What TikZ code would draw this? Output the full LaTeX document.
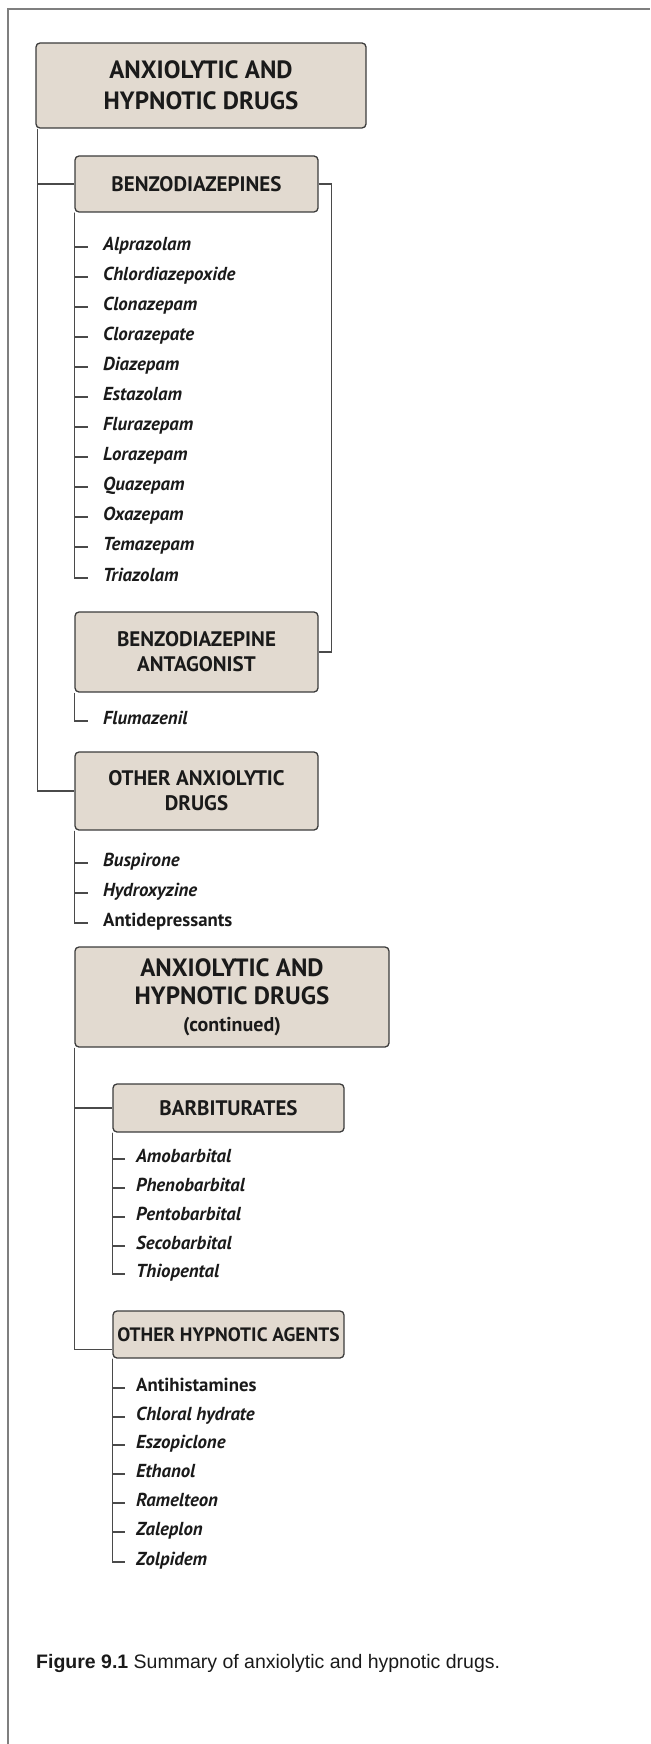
\documentclass[tikz,border=0pt]{standalone}
\usepackage{fontspec}
\setmainfont{PT Sans}
\newfontfamily\capfont{Liberation Sans}
\usetikzlibrary{positioning}

\definecolor{boxfill}{HTML}{E2DAD0}
\definecolor{boxline}{HTML}{3C3C3C}
\definecolor{treeline}{HTML}{4A4A4A}
\definecolor{framegray}{HTML}{7F7F7F}
\definecolor{inkblack}{HTML}{1A1A1A}

\begin{document}
\begin{tikzpicture}[x=1pt, y=-1pt,
    box/.style={draw=boxline, fill=boxfill, line width=1.3pt, rounded corners=4pt, align=center, inner sep=2pt, text=inkblack},
    subbox/.style={box, minimum width=243pt, font=\fontsize{21}{25}\selectfont\bfseries},
    item/.style={anchor=west, inner xsep=15pt, inner ysep=0pt, text height=0.7em, text depth=0pt, text=inkblack, font=\fontsize{18.8}{22}\selectfont\bfseries\itshape},
    bitem/.style={item, inner xsep=11pt},
    tree/.style={draw=treeline, line width=1.2pt}
  ]
  \useasboundingbox (0,0) rectangle (650,1744);
  % frame
  \draw[framegray, line width=2pt] (8,1744) -- (8,9) -- (650,9);

  % first page of the chart
  \node[box, minimum width=330pt, minimum height=85pt, font=\fontsize{25}{31}\selectfont\bfseries] (anx) at (201,85.5) {ANXIOLYTIC AND\\HYPNOTIC DRUGS};
  \node[subbox, minimum height=56pt] (benz) at (196.5,184) {BENZODIAZEPINES};
  \node[subbox, minimum height=80pt] (antag) at (196.5,652) {BENZODIAZEPINE\\ANTAGONIST};
  \node[subbox, minimum height=78pt] (other) at (196.5,791) {OTHER ANXIOLYTIC\\DRUGS};

  \node[item] (alp) at (88,247) {Alprazolam};
  \node[item] (chl) at (88,277) {Chlordiazepoxide};
  \node[item] (clo) at (88,307) {Clonazepam};
  \node[item] (clr) at (88,337) {Clorazepate};
  \node[item] (dia) at (88,367) {Diazepam};
  \node[item] (est) at (88,397) {Estazolam};
  \node[item] (flu) at (88,427) {Flurazepam};
  \node[item] (lor) at (88,457) {Lorazepam};
  \node[item] (qua) at (88,487) {Quazepam};
  \node[item] (oxa) at (88,517) {Oxazepam};
  \node[item] (tem) at (88,547) {Temazepam};
  \node[item] (tri) at (88,578) {Triazolam};
  \node[item] (flm) at (88,721) {Flumazenil};
  \node[item] (bus) at (88,863) {Buspirone};
  \node[item] (hyd) at (88,893) {Hydroxyzine};
  \node[item, font=\fontsize{18.8}{22}\selectfont\bfseries] (adp) at (88,923) {Antidepressants};

  \draw[tree] ([xshift=2pt]anx.south west) |- (benz.west);
  \draw[tree] ([xshift=2pt]anx.south west) |- (other.west);
  \draw[tree] (benz.east) -- ++(13,0) |- (antag.east);
  \draw[tree] (benz.south west) |- (alp.west);
  \draw[tree] (benz.south west) |- (chl.west);
  \draw[tree] (benz.south west) |- (clo.west);
  \draw[tree] (benz.south west) |- (clr.west);
  \draw[tree] (benz.south west) |- (dia.west);
  \draw[tree] (benz.south west) |- (est.west);
  \draw[tree] (benz.south west) |- (flu.west);
  \draw[tree] (benz.south west) |- (lor.west);
  \draw[tree] (benz.south west) |- (qua.west);
  \draw[tree] (benz.south west) |- (oxa.west);
  \draw[tree] (benz.south west) |- (tem.west);
  \draw[tree] (benz.south west) |- (tri.west);
  \draw[tree] (antag.south west) |- (flm.west);
  \draw[tree] (other.south west) |- (bus.west);
  \draw[tree] (other.south west) |- (hyd.west);
  \draw[tree] (other.south west) |- (adp.west);

  % continued part
  \node[box, minimum width=314pt, minimum height=100pt, font=\fontsize{25}{28}\selectfont\bfseries] (cont) at (232,997) {ANXIOLYTIC AND\\HYPNOTIC DRUGS\\[-1pt]{\fontsize{20}{24}\selectfont(continued)}};
  \node[subbox, minimum width=231pt, minimum height=48pt] (barb) at (228.5,1108) {BARBITURATES};
  \node[subbox, minimum width=231pt, minimum height=47pt, inner xsep=0pt, font=\fontsize{19.4}{24}\selectfont\bfseries] (hyp) at (228.5,1334.5) {OTHER HYPNOTIC AGENTS};

  \node[bitem] (amo) at (125,1159) {Amobarbital};
  \node[bitem] (phe) at (125,1188) {Phenobarbital};
  \node[bitem] (pen) at (125,1217) {Pentobarbital};
  \node[bitem] (sec) at (125,1246) {Secobarbital};
  \node[bitem] (thi) at (125,1274) {Thiopental};
  \node[bitem, font=\fontsize{18.8}{22}\selectfont\bfseries] (ahi) at (125,1388) {Antihistamines};
  \node[bitem] (chd) at (125,1417) {Chloral hydrate};
  \node[bitem] (esz) at (125,1445) {Eszopiclone};
  \node[bitem] (eth) at (125,1474) {Ethanol};
  \node[bitem] (ram) at (125,1503) {Ramelteon};
  \node[bitem] (zal) at (125,1532) {Zaleplon};
  \node[bitem] (zol) at (125,1562) {Zolpidem};

  \draw[tree] (cont.south west) |- (barb.west);
  \draw[tree] (cont.south west) |- ([yshift=-15pt]hyp.west);
  \draw[tree] (barb.south west) |- (amo.west);
  \draw[tree] (barb.south west) |- (phe.west);
  \draw[tree] (barb.south west) |- (pen.west);
  \draw[tree] (barb.south west) |- (sec.west);
  \draw[tree] (barb.south west) |- (thi.west);
  \draw[tree] (hyp.south west) |- (ahi.west);
  \draw[tree] (hyp.south west) |- (chd.west);
  \draw[tree] (hyp.south west) |- (esz.west);
  \draw[tree] (hyp.south west) |- (eth.west);
  \draw[tree] (hyp.south west) |- (ram.west);
  \draw[tree] (hyp.south west) |- (zal.west);
  \draw[tree] (hyp.south west) |- (zol.west);

  % caption
  \node[anchor=west, inner sep=0pt, text=inkblack, font=\capfont\fontsize{19.5}{22}\selectfont] (cap) at (36,1663) {\textbf{Figure 9.1} Summary of anxiolytic and hypnotic drugs.};
\end{tikzpicture}
\end{document}
